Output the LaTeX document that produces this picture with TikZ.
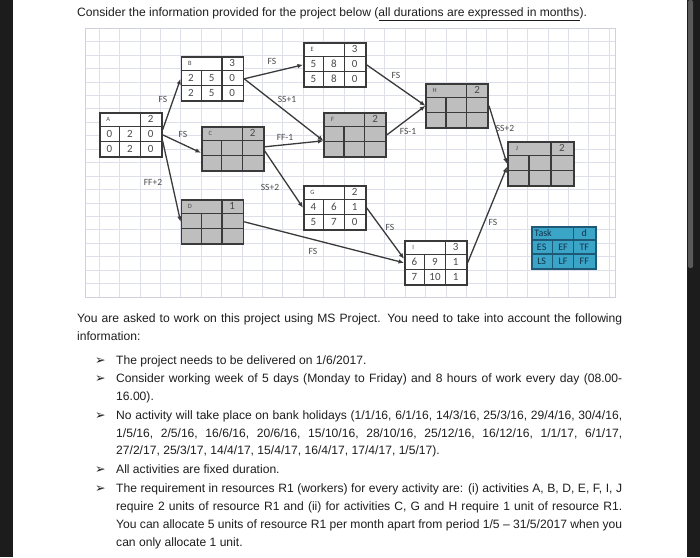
\documentclass[tikz,border=0pt]{standalone}
\usepackage{fontspec}
\setmainfont{Liberation Sans}
\newfontfamily\diag{Carlito}
\newfontfamily\dvs{DejaVu Sans}
\usetikzlibrary{arrows.meta,calc}

\definecolor{gridc}{HTML}{DDE0EA}
\definecolor{gridb}{HTML}{CFD2DC}
\definecolor{boxc}{HTML}{3A3A3A}
\definecolor{grayfill}{HTML}{BEBEBE}
\definecolor{legfill}{HTML}{3BA5C8}
\definecolor{legline}{HTML}{1E5A78}
\definecolor{legtxt}{HTML}{16324A}
\definecolor{numc}{HTML}{4A4A4A}
\definecolor{txt}{HTML}{1E1E1E}
\definecolor{band}{HTML}{1C1C1C}
\definecolor{thumb}{HTML}{5A5A5A}

\tikzset{
  task/.style={draw=boxc, line width=1.6pt, minimum width=62pt, minimum height=44pt, inner sep=0pt, anchor=north west},
  cell/.style={draw=boxc, line width=1.2pt},
  conn/.style={draw=boxc, line width=1.3pt, -{Latex[length=5.5pt,width=4.5pt]}},
  lab/.style={font=\diag\fontsize{9.5}{10}\selectfont, text=numc, inner sep=0pt},
  letterfont/.style={font=\diag\fontsize{6.5}{7}\selectfont, text=numc, inner sep=0pt},
  numfont/.style={font=\diag\fontsize{11}{12}\selectfont, text=numc, inner sep=0pt},
  legfont/.style={font=\diag\fontsize{10}{11}\selectfont, text=legtxt, inner sep=0pt},
  body/.style={anchor=base west, inner sep=0pt, text=txt, font=\fontsize{12.1}{14}\selectfont},
  bul/.style={anchor=base west, inner sep=0pt, text=txt, font=\dvs\fontsize{12.5}{13}\selectfont},
}

\newcommand\cw{20.67}
% name, letter, d, es, ef, tf, ls, lf, ff
\newcommand\taskcells[9]{%
  \begin{scope}[shift={(#1.north west)}, x=\cw pt, y=-14.67pt]
    \draw[cell] (0,1) -- (3,1) (0,2) -- (3,2) (1,1) -- (1,3) (2,0) -- (2,3);
    \node[letterfont] at (0.45,0.5) {#2};
    \node[numfont] at (2.5,0.5) {#3};
    \node[numfont] at (0.5,1.5) {#4};
    \node[numfont] at (1.5,1.5) {#5};
    \node[numfont] at (2.5,1.5) {#6};
    \node[numfont] at (0.5,2.5) {#7};
    \node[numfont] at (1.5,2.5) {#8};
    \node[numfont] at (2.5,2.5) {#9};
  \end{scope}}

\begin{document}
\begin{tikzpicture}[x=1pt, y=-1pt]
\useasboundingbox (0,0) rectangle (700,557);
\fill[white] (0,0) rectangle (700,557);
% side bands
\fill[band] (0,0) rectangle (13,557);
\fill[band] (687,0) rectangle (700,557);
\fill[thumb, rounded corners=2pt] (688,0) rectangle (693,268);

% title
\node[body] (title) at (77,16) {Consider the information provided for the project below (\underline{all durations are expressed in months}).};

% grid
\foreach \k in {0,...,25} { \draw[gridc, line width=0.6pt] (99+20.4*\k,28) -- (99+20.4*\k,297); }
\foreach \k in {1,...,19} { \draw[gridc, line width=0.6pt] (85,28+13.45*\k) -- (615,28+13.45*\k); }
\draw[gridb, line width=0.8pt] (85,28) rectangle (615,297);

% task boxes
\node[task, fill=white] (A) at (99,112) {};
\node[task, fill=white] (B) at (180.6,56) {};
\node[task, fill=white] (E) at (303,42) {};
\node[task, fill=grayfill] (C) at (201,126) {};
\node[task, fill=grayfill] (F) at (323.4,112) {};
\node[task, fill=grayfill] (H) at (425.4,83) {};
\node[task, fill=grayfill, minimum width=66pt] (J) at (507,141) {};
\node[task, fill=grayfill] (D) at (180.6,199) {};
\node[task, fill=white] (G) at (303,185) {};
\node[task, fill=white] (I) at (404,240) {};
\node[task, fill=legfill, draw=legline, minimum width=64pt, minimum height=42pt] (L) at (531,226) {};

\taskcells{A}{A}{2}{0}{2}{0}{0}{2}{0}
\taskcells{B}{B}{3}{2}{5}{0}{2}{5}{0}
\taskcells{E}{E}{3}{5}{8}{0}{5}{8}{0}
\taskcells{C}{C}{2}{}{}{}{}{}{}
\taskcells{F}{F}{2}{}{}{}{}{}{}
\taskcells{H}{H}{2}{}{}{}{}{}{}
\taskcells{D}{D}{1}{}{}{}{}{}{}
\taskcells{G}{G}{2}{4}{6}{1}{5}{7}{0}
\taskcells{I}{I}{3}{6}{9}{1}{7}{10}{1}
\renewcommand\cw{22}
\taskcells{J}{J}{2}{}{}{}{}{}{}

% legend
\begin{scope}[shift={(L.north west)}, x=21.33pt, y=-14pt]
  \draw[draw=legline, line width=1.2pt] (0,1) -- (3,1) (0,2) -- (3,2) (1,1) -- (1,3) (2,0) -- (2,3);
  \node[legfont, anchor=west] at (0.15,0.5) {Task};
  \node[legfont] at (2.5,0.5) {d};
  \node[legfont] at (0.5,1.5) {ES};
  \node[legfont] at (1.5,1.5) {EF};
  \node[legfont] at (2.5,1.5) {TF};
  \node[legfont] at (0.5,2.5) {LS};
  \node[legfont] at (1.5,2.5) {LF};
  \node[legfont] at (2.5,2.5) {FF};
\end{scope}

% connectors
\draw[conn] ([yshift=5pt]A.east) -- (B.west);
\draw[conn] (A.east) -- ([yshift=-4pt]C.west);
\draw[conn] ([yshift=-6pt]A.east) -- (D.west);
\draw[conn] (B.east) -- (E.west);
\draw[conn] (B.east) -- ([yshift=-6pt]F.west);
\draw[conn] ([yshift=2pt]C.east) -- ([yshift=-6pt]F.west);
\draw[conn] ([yshift=-2pt]C.east) -- (G.west);
\draw[conn] (D.east) -- (I.west);
\draw[conn] (G.east) -- ([yshift=4pt]I.west);
\draw[conn] (E.east) -- (H.west);
\draw[conn] (F.east) -- (H.west);
\draw[conn] (H.east) -- (J.west);
\draw[conn] (I.east) -- ([yshift=-3pt]J.west);

% connector labels
\node[lab] (lAB) at (163,99) {FS};
\node[lab] (lAC) at (183,134) {FS};
\node[lab] (lAD) at (153,182) {FF+2};
\node[lab] (lBE) at (272,61) {FS};
\node[lab] (lBF) at (287,99) {SS+1};
\node[lab] (lCF) at (285,137) {FF-1};
\node[lab] (lCG) at (270,187) {SS+2};
\node[lab] (lEH) at (396,75) {FS};
\node[lab] (lFH) at (408,131) {FS-1};
\node[lab] (lHJ) at (505,128) {SS+2};
\node[lab] (lGI) at (390,227) {FS};
\node[lab] (lDI) at (313,251) {FS};
\node[lab] (lIJ) at (493,222) {FS};

% body text
\node[body] (t1) at (77,322) {\makebox[545pt][s]{You are asked to work on this project using MS Project. You need to take into account the following}};
\node[body] (t2) at (77,340) {information:};
\node[bul] (b1) at (95,364) {➢};
\node[body] (t3) at (116,364) {The project needs to be delivered on 1/6/2017.};
\node[bul] (b2) at (95,382) {➢};
\node[body] (t4) at (116,382) {\makebox[506pt][s]{Consider working week of 5 days (Monday to Friday) and 8 hours of work every day (08.00-}};
\node[body] (t5) at (116,400) {16.00).};
\node[bul] (b3) at (95,419) {➢};
\node[body] (t6) at (116,419) {\makebox[506pt][s]{No activity will take place on bank holidays (1/1/16, 6/1/16, 14/3/16, 25/3/16, 29/4/16, 30/4/16,}};
\node[body] (t7) at (116,437) {\makebox[506pt][s]{1/5/16, 2/5/16, 16/6/16, 20/6/16, 15/10/16, 28/10/16, 25/12/16, 16/12/16, 1/1/17, 6/1/17,}};
\node[body] (t8) at (116,454) {27/2/17, 25/3/17, 14/4/17, 15/4/17, 16/4/17, 17/4/17, 1/5/17).};
\node[bul] (b4) at (95,473) {➢};
\node[body] (t9) at (116,473) {All activities are fixed duration.};
\node[bul] (b5) at (95,492) {➢};
\node[body] (t10) at (116,492) {\makebox[506pt][s]{The requirement in resources R1 (workers) for every activity are: (i) activities A, B, D, E, F, I, J}};
\node[body] (t11) at (116,510) {\makebox[506pt][s]{require 2 units of resource R1 and (ii) for activities C, G and H require 1 unit of resource R1.}};
\node[body] (t12) at (116,528) {\makebox[506pt][s]{You can allocate 5 units of resource R1 per month apart from period 1/5 – 31/5/2017 when you}};
\node[body] (t13) at (116,546) {can only allocate 1 unit.};
\end{tikzpicture}
\end{document}
